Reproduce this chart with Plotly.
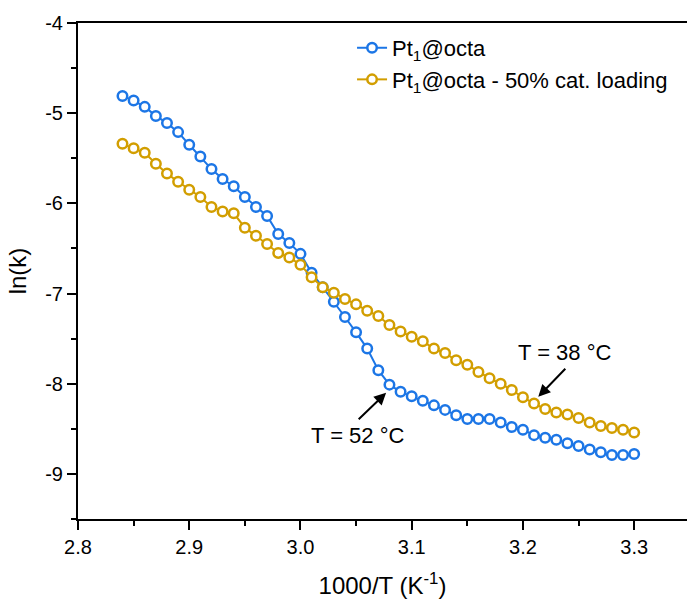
import plotly.graph_objects as go

x_vals = [2.84, 2.85, 2.86, 2.87, 2.88, 2.89, 2.90, 2.91, 2.92, 2.93,
          2.94, 2.95, 2.96, 2.97, 2.98, 2.99, 3.00, 3.01, 3.02, 3.03,
          3.04, 3.05, 3.06, 3.07, 3.08, 3.09, 3.10, 3.11, 3.12, 3.13,
          3.14, 3.15, 3.16, 3.17, 3.18, 3.19, 3.20, 3.21, 3.22, 3.23,
          3.24, 3.25, 3.26, 3.27, 3.28, 3.29, 3.30]

pt1_octa = [-4.81, -4.86, -4.93, -5.03, -5.11, -5.21, -5.35, -5.48, -5.62, -5.73,
            -5.81, -5.93, -6.04, -6.14, -6.34, -6.44, -6.56, -6.77, -6.93, -7.09,
            -7.26, -7.43, -7.61, -7.85, -8.01, -8.09, -8.14, -8.19, -8.24, -8.29,
            -8.35, -8.39, -8.39, -8.39, -8.43, -8.48, -8.51, -8.57, -8.60, -8.62,
            -8.66, -8.69, -8.73, -8.76, -8.79, -8.79, -8.78]

pt1_octa_50 = [-5.34, -5.39, -5.44, -5.56, -5.67, -5.76, -5.85, -5.93, -6.04, -6.09,
               -6.11, -6.27, -6.36, -6.45, -6.55, -6.60, -6.68, -6.82, -6.93, -6.99,
               -7.06, -7.12, -7.19, -7.25, -7.35, -7.42, -7.48, -7.53, -7.61, -7.66,
               -7.74, -7.79, -7.87, -7.94, -8.00, -8.07, -8.15, -8.22, -8.28, -8.32,
               -8.34, -8.38, -8.43, -8.47, -8.49, -8.51, -8.54]

series_names = ["Pt<sub>1</sub>@octa", "Pt<sub>1</sub>@octa - 50% cat. loading"]
series_colors = ["#1C76E6", "#D29E00"]

x_ticks = [2.8, 2.9, 3.0, 3.1, 3.2, 3.3]
x_ticklabels = ["2.8", "2.9", "3.0", "3.1", "3.2", "3.3"]
y_ticks = [-4, -5, -6, -7, -8, -9]
y_ticklabels = ["-4", "-5", "-6", "-7", "-8", "-9"]

FONT = "Liberation Sans, Arial, sans-serif"

fig = go.Figure()
for name, ys, col, grp in [(series_names[0], pt1_octa, series_colors[0], "a"),
                           (series_names[1], pt1_octa_50, series_colors[1], "b")]:
    fig.add_trace(go.Scatter(
        x=x_vals, y=ys, name=name, mode="lines+markers", legendgroup=grp,
        line=dict(color=col, width=2),
        marker=dict(symbol="circle", size=9.5, color="white",
                    line=dict(color=col, width=2.5)),
    ))

# arrows
fig.add_annotation(x=3.077, y=-8.10, ax=3.051, ay=-8.41, xref="x", yref="y",
                   axref="x", ayref="y", text="", showarrow=True,
                   arrowhead=2, arrowsize=1.2, arrowwidth=2, arrowcolor="black")
fig.add_annotation(x=3.2138, y=-8.144, ax=3.2394, ay=-7.818, xref="x", yref="y",
                   axref="x", ayref="y", text="", showarrow=True,
                   arrowhead=2, arrowsize=1.2, arrowwidth=2, arrowcolor="black")
# labels
fig.add_annotation(x=3.0515, y=-8.57, xref="x", yref="y", text="T = 52 °C",
                   showarrow=False, font=dict(family=FONT, size=22, color="black"))
fig.add_annotation(x=3.2375, y=-7.65, xref="x", yref="y", text="T = 38 °C",
                   showarrow=False, font=dict(family=FONT, size=22, color="black"))

axis_common = dict(showgrid=False, zeroline=False, showline=True, linecolor="black",
                   linewidth=2, ticks="outside", tickwidth=2, ticklen=9,
                   tickcolor="black", tickfont=dict(family=FONT, size=20, color="black"),
                   minor=dict(ticks="outside", ticklen=5, tickwidth=2, tickcolor="black"))

fig.update_xaxes(range=[2.8, 3.3475], tickvals=x_ticks, ticktext=x_ticklabels,
                 mirror=True, title=dict(text="1000/T (K<sup>-1</sup>)",
                                         font=dict(family=FONT, size=24, color="black"),
                                         standoff=20),
                 **axis_common)
fig.update_xaxes(minor=dict(tickvals=[2.85, 2.95, 3.05, 3.15, 3.25]))
fig.update_yaxes(range=[-9.5, -4], tickvals=y_ticks, ticktext=y_ticklabels,
                 title=dict(text="ln(k)", font=dict(family=FONT, size=24, color="black"),
                            standoff=12),
                 **axis_common)
fig.update_yaxes(minor=dict(tickvals=[-4.5, -5.5, -6.5, -7.5, -8.5, -9.5]))

fig.update_layout(
    width=687, height=601,
    margin=dict(l=78, r=0, t=23, b=82, pad=0),
    plot_bgcolor="white", paper_bgcolor="white",
    font=dict(family=FONT, color="black"),
    legend=dict(x=0.45, y=0.992, xanchor="left", yanchor="top",
                font=dict(family=FONT, size=22, color="black"),
                bgcolor="rgba(0,0,0,0)", traceorder="grouped", tracegroupgap=0),
)

fig.write_html("out.html")
